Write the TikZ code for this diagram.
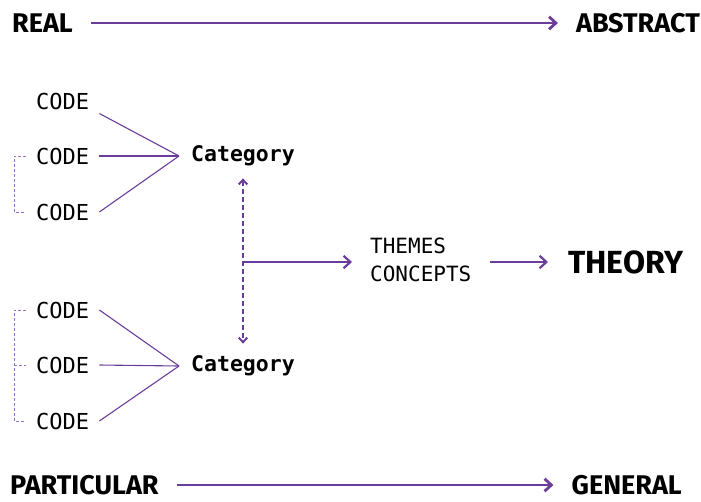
\documentclass[tikz,border=0pt]{standalone}
\usepackage{fontspec}
\setmainfont{Fira Sans}
\setmonofont{DejaVu Sans Mono}
\usetikzlibrary{calc,positioning,arrows.meta}

\definecolor{grape}{RGB}{106,61,154}
\definecolor{lilac}{RGB}{150,112,190}

\begin{document}
\begin{tikzpicture}[
        x=1pt, y=-1pt,
        axis/.style={font=\fontsize{27}{29}\selectfont\bfseries, inner xsep=18pt, inner ysep=0pt},
        code/.style={font=\fontsize{22}{24}\selectfont\ttfamily, inner xsep=10pt, inner ysep=4pt, anchor=west},
        cat/.style={font=\fontsize{21.5}{24}\selectfont\ttfamily\bfseries, inner xsep=12pt, inner ysep=12pt},
        arr/.style={draw=grape, line width=2.8pt, -{Straight Barb[length=2.4mm, width=4.4mm]}},
        fan/.style={draw=grape, line width=1.1pt},
        link/.style={draw=grape, line width=2pt, dash pattern=on 5pt off 3pt, {Straight Barb[length=1.6mm, width=3mm]}-{Straight Barb[length=1.6mm, width=3mm]}},
        brace/.style={draw=lilac, line width=0.9pt, dash pattern=on 3pt off 2pt}
    ]
    \useasboundingbox (0,0) rectangle (701,501);

    % axes
    \node[axis, anchor=west] (real) at (-6,23) {REAL};
    \node[axis, anchor=east] (abstract) at (718,23) {ABSTRACT};
    \node[axis, anchor=west] (particular) at (-8,485) {PARTICULAR};
    \node[axis, anchor=east] (general) at (700,485) {GENERAL};
    \draw[arr] (real.east) -- (abstract.west);
    \draw[arr] (particular.east) -- (general.west);

    % codes
    \node[code] (code1) at (26,101) {CODE};
    \node[code] (code2) at (26,156) {CODE};
    \node[code] (code3) at (26,212) {CODE};
    \node[code] (code4) at (26,310) {CODE};
    \node[code] (code5) at (26,365) {CODE};
    \node[code] (code6) at (26,421) {CODE};

    \node[cat] (cat1) at (243,156) {Category};
    \node[cat] (cat2) at (243,366) {Category};

    \draw[fan] (code1.south east) -- (cat1.west);
    \draw[fan] (code2.east) -- (cat1.west);
    \draw[fan] (code3.east) -- (cat1.west);
    \draw[fan] (code4.east) -- (cat2.west);
    \draw[fan] (code5.east) -- (cat2.west);
    \draw[fan] (code6.east) -- (cat2.west);

    % brackets
    \coordinate (b2) at ($(code2.west)+(-12,0)$);
    \coordinate (b3) at ($(code3.west)+(-12,0)$);
    \coordinate (b4) at ($(code4.west)+(-12,0)$);
    \coordinate (b5) at ($(code5.west)+(-12,0)$);
    \coordinate (b6) at ($(code6.west)+(-12,0)$);
    \draw[brace] (code2.west) -- (b2) -- (b3) -- (code3.west);
    \draw[brace] (code4.west) -- (b4) -- (b6) -- (code6.west);
    \draw[brace] (b5) -- (code5.west);

    \draw[link] (cat1.south) -- (cat2.north);

    \coordinate (jn) at (243,262);
    \node[font=\fontsize{21}{28}\selectfont\ttfamily, align=left, inner xsep=18pt, anchor=west] (themes) at (352,260) {THEMES\\CONCEPTS};
    \node[font=\fontsize{32}{34}\selectfont\bfseries, inner xsep=20pt, anchor=west] (theory) at (548,262) {THEORY};
    \draw[arr, line width=2.2pt] (jn) -- (themes.west |- jn);
    \draw[arr, line width=2.2pt] (themes.east |- jn) -- (theory.west |- jn);
\end{tikzpicture}
\end{document}
